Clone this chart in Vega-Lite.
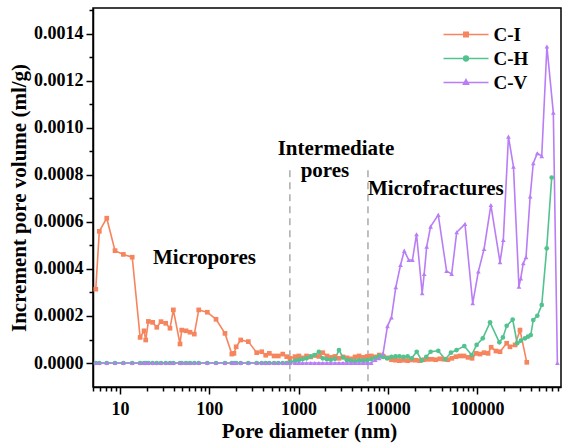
{
  "$schema": "https://vega.github.io/schema/vega-lite/v6.json",
  "width": 468,
  "height": 379,
  "autosize": {"type": "none"},
  "padding": {"left": 93, "top": 8, "right": 1, "bottom": 56},
  "background": "white",
  "config": {
    "font": "Liberation Serif",
    "view": {"stroke": "black", "strokeWidth": 1.5},
    "axis": {
      "grid": false,
      "domainColor": "black",
      "domainWidth": 1.5,
      "tickColor": "black",
      "tickWidth": 1.5,
      "labelFont": "Liberation Serif",
      "labelFontWeight": "bold",
      "labelFontSize": 18,
      "labelColor": "black",
      "labelFlush": false,
      "labelOverlap": false,
      "titleFont": "Liberation Serif",
      "titleFontWeight": "bold",
      "titleFontSize": 21,
      "titleColor": "black"
    }
  },
  "datasets": {
    "pore": [
      {"series": "C-I", "diameter": 5.35, "volume": 0.000314},
      {"series": "C-I", "diameter": 5.86, "volume": 0.00056},
      {"series": "C-I", "diameter": 7.1, "volume": 0.000616},
      {"series": "C-I", "diameter": 8.79, "volume": 0.000478},
      {"series": "C-I", "diameter": 10.9, "volume": 0.000462},
      {"series": "C-I", "diameter": 13.7, "volume": 0.00045},
      {"series": "C-I", "diameter": 16.8, "volume": 0.000109},
      {"series": "C-I", "diameter": 18.6, "volume": 0.000137},
      {"series": "C-I", "diameter": 19.4, "volume": 0.000098},
      {"series": "C-I", "diameter": 20.8, "volume": 0.000177},
      {"series": "C-I", "diameter": 23.2, "volume": 0.000173},
      {"series": "C-I", "diameter": 25.8, "volume": 0.000152},
      {"series": "C-I", "diameter": 28.8, "volume": 0.000176},
      {"series": "C-I", "diameter": 32.5, "volume": 0.000169},
      {"series": "C-I", "diameter": 36.3, "volume": 0.000148},
      {"series": "C-I", "diameter": 39.6, "volume": 0.000226},
      {"series": "C-I", "diameter": 47, "volume": 0.000081},
      {"series": "C-I", "diameter": 49.1, "volume": 0.00014},
      {"series": "C-I", "diameter": 54.9, "volume": 0.000137},
      {"series": "C-I", "diameter": 60.8, "volume": 0.000131},
      {"series": "C-I", "diameter": 68, "volume": 0.000123},
      {"series": "C-I", "diameter": 76.2, "volume": 0.000226},
      {"series": "C-I", "diameter": 95.1, "volume": 0.000216},
      {"series": "C-I", "diameter": 119, "volume": 0.000186},
      {"series": "C-I", "diameter": 150, "volume": 0.000126},
      {"series": "C-I", "diameter": 179, "volume": 0.000038},
      {"series": "C-I", "diameter": 189, "volume": 0.000041},
      {"series": "C-I", "diameter": 200, "volume": 0.000069},
      {"series": "C-I", "diameter": 225, "volume": 0.000098},
      {"series": "C-I", "diameter": 274, "volume": 0.000091},
      {"series": "C-I", "diameter": 340, "volume": 0.000044},
      {"series": "C-I", "diameter": 387, "volume": 0.000048},
      {"series": "C-I", "diameter": 429, "volume": 0.000033},
      {"series": "C-I", "diameter": 471, "volume": 0.000041},
      {"series": "C-I", "diameter": 532, "volume": 0.00003},
      {"series": "C-I", "diameter": 594, "volume": 0.00003},
      {"series": "C-I", "diameter": 666, "volume": 0.000038},
      {"series": "C-I", "diameter": 738, "volume": 0.000027},
      {"series": "C-I", "diameter": 803, "volume": 0.00002},
      {"series": "C-I", "diameter": 914, "volume": 0.000027},
      {"series": "C-I", "diameter": 1010, "volume": 0.00003},
      {"series": "C-I", "diameter": 1110, "volume": 0.000022},
      {"series": "C-I", "diameter": 1230, "volume": 0.00003},
      {"series": "C-I", "diameter": 1370, "volume": 0.000026},
      {"series": "C-I", "diameter": 1520, "volume": 0.000032},
      {"series": "C-I", "diameter": 1690, "volume": 0.000028},
      {"series": "C-I", "diameter": 1870, "volume": 0.000044},
      {"series": "C-I", "diameter": 2080, "volume": 0.00003},
      {"series": "C-I", "diameter": 2300, "volume": 0.000024},
      {"series": "C-I", "diameter": 2560, "volume": 0.000028},
      {"series": "C-I", "diameter": 2840, "volume": 0.00002},
      {"series": "C-I", "diameter": 3150, "volume": 0.000026},
      {"series": "C-I", "diameter": 3490, "volume": 0.000022},
      {"series": "C-I", "diameter": 3880, "volume": 0.000018},
      {"series": "C-I", "diameter": 4300, "volume": 0.000026},
      {"series": "C-I", "diameter": 4770, "volume": 0.00003},
      {"series": "C-I", "diameter": 5300, "volume": 0.000024},
      {"series": "C-I", "diameter": 5880, "volume": 0.000028},
      {"series": "C-I", "diameter": 6520, "volume": 0.00003},
      {"series": "C-I", "diameter": 7240, "volume": 0.000026},
      {"series": "C-I", "diameter": 8030, "volume": 0.000034},
      {"series": "C-I", "diameter": 8910, "volume": 0.000028},
      {"series": "C-I", "diameter": 9890, "volume": 0.000022},
      {"series": "C-I", "diameter": 11000, "volume": 0.000014},
      {"series": "C-I", "diameter": 12200, "volume": 0.000012},
      {"series": "C-I", "diameter": 13500, "volume": 0.00001},
      {"series": "C-I", "diameter": 15000, "volume": 0.000012},
      {"series": "C-I", "diameter": 16700, "volume": 0.00001},
      {"series": "C-I", "diameter": 18500, "volume": 0.000013},
      {"series": "C-I", "diameter": 20500, "volume": 0.000012},
      {"series": "C-I", "diameter": 22800, "volume": 0.00001},
      {"series": "C-I", "diameter": 25300, "volume": 0.000014},
      {"series": "C-I", "diameter": 28000, "volume": 0.000016},
      {"series": "C-I", "diameter": 31100, "volume": 0.000016},
      {"series": "C-I", "diameter": 34500, "volume": 0.000014},
      {"series": "C-I", "diameter": 38300, "volume": 0.000018},
      {"series": "C-I", "diameter": 42500, "volume": 0.000016},
      {"series": "C-I", "diameter": 47200, "volume": 0.000014},
      {"series": "C-I", "diameter": 52300, "volume": 0.00002},
      {"series": "C-I", "diameter": 58000, "volume": 0.000027},
      {"series": "C-I", "diameter": 64400, "volume": 0.00003},
      {"series": "C-I", "diameter": 71500, "volume": 0.00003},
      {"series": "C-I", "diameter": 79300, "volume": 0.000024},
      {"series": "C-I", "diameter": 88000, "volume": 0.00002},
      {"series": "C-I", "diameter": 97700, "volume": 0.000041},
      {"series": "C-I", "diameter": 108000, "volume": 0.000038},
      {"series": "C-I", "diameter": 120000, "volume": 0.000044},
      {"series": "C-I", "diameter": 133000, "volume": 0.000041},
      {"series": "C-I", "diameter": 144000, "volume": 0.000067},
      {"series": "C-I", "diameter": 163000, "volume": 0.000051},
      {"series": "C-I", "diameter": 181000, "volume": 0.000048},
      {"series": "C-I", "diameter": 215000, "volume": 0.000084},
      {"series": "C-I", "diameter": 234000, "volume": 0.000069},
      {"series": "C-I", "diameter": 267000, "volume": 0.000077},
      {"series": "C-I", "diameter": 303000, "volume": 0.00014},
      {"series": "C-I", "diameter": 361000, "volume": 0.000003},

      {"series": "C-H", "diameter": 5.35, "volume": 0},
      {"series": "C-H", "diameter": 5.86, "volume": 0},
      {"series": "C-H", "diameter": 7.1, "volume": 0},
      {"series": "C-H", "diameter": 8.79, "volume": 0},
      {"series": "C-H", "diameter": 10.9, "volume": 0},
      {"series": "C-H", "diameter": 13.7, "volume": 0},
      {"series": "C-H", "diameter": 16.8, "volume": 0},
      {"series": "C-H", "diameter": 18.6, "volume": 0},
      {"series": "C-H", "diameter": 19.4, "volume": 0},
      {"series": "C-H", "diameter": 20.8, "volume": 0},
      {"series": "C-H", "diameter": 23.2, "volume": 0},
      {"series": "C-H", "diameter": 25.8, "volume": 0},
      {"series": "C-H", "diameter": 28.8, "volume": 0},
      {"series": "C-H", "diameter": 32.5, "volume": 0},
      {"series": "C-H", "diameter": 36.3, "volume": 0},
      {"series": "C-H", "diameter": 39.6, "volume": 0},
      {"series": "C-H", "diameter": 47, "volume": 0},
      {"series": "C-H", "diameter": 49.1, "volume": 0},
      {"series": "C-H", "diameter": 54.9, "volume": 0},
      {"series": "C-H", "diameter": 60.8, "volume": 0},
      {"series": "C-H", "diameter": 68, "volume": 0},
      {"series": "C-H", "diameter": 76.2, "volume": 0},
      {"series": "C-H", "diameter": 95.1, "volume": 0},
      {"series": "C-H", "diameter": 119, "volume": 0},
      {"series": "C-H", "diameter": 150, "volume": 0},
      {"series": "C-H", "diameter": 179, "volume": 0},
      {"series": "C-H", "diameter": 189, "volume": 0},
      {"series": "C-H", "diameter": 200, "volume": 0},
      {"series": "C-H", "diameter": 225, "volume": 0},
      {"series": "C-H", "diameter": 274, "volume": 0},
      {"series": "C-H", "diameter": 340, "volume": 0},
      {"series": "C-H", "diameter": 387, "volume": 0},
      {"series": "C-H", "diameter": 429, "volume": 0},
      {"series": "C-H", "diameter": 471, "volume": 0},
      {"series": "C-H", "diameter": 532, "volume": 0},
      {"series": "C-H", "diameter": 594, "volume": 0},
      {"series": "C-H", "diameter": 666, "volume": 0},
      {"series": "C-H", "diameter": 738, "volume": 0},
      {"series": "C-H", "diameter": 803, "volume": 0.000004},
      {"series": "C-H", "diameter": 914, "volume": 0.00001},
      {"series": "C-H", "diameter": 1010, "volume": 0.000013},
      {"series": "C-H", "diameter": 1110, "volume": 0.000016},
      {"series": "C-H", "diameter": 1230, "volume": 0.00002},
      {"series": "C-H", "diameter": 1370, "volume": 0.000028},
      {"series": "C-H", "diameter": 1520, "volume": 0.000034},
      {"series": "C-H", "diameter": 1690, "volume": 0.000048},
      {"series": "C-H", "diameter": 1870, "volume": 0.00002},
      {"series": "C-H", "diameter": 2080, "volume": 0.000016},
      {"series": "C-H", "diameter": 2300, "volume": 0.000014},
      {"series": "C-H", "diameter": 2560, "volume": 0.000018},
      {"series": "C-H", "diameter": 2840, "volume": 0.000055},
      {"series": "C-H", "diameter": 3150, "volume": 0.000024},
      {"series": "C-H", "diameter": 3490, "volume": 0.000012},
      {"series": "C-H", "diameter": 3880, "volume": 0.00001},
      {"series": "C-H", "diameter": 4300, "volume": 0.000008},
      {"series": "C-H", "diameter": 4770, "volume": 0.000012},
      {"series": "C-H", "diameter": 5300, "volume": 0.00001},
      {"series": "C-H", "diameter": 5880, "volume": 0.000012},
      {"series": "C-H", "diameter": 6520, "volume": 0.000016},
      {"series": "C-H", "diameter": 7240, "volume": 0.000022},
      {"series": "C-H", "diameter": 8030, "volume": 0.00003},
      {"series": "C-H", "diameter": 8910, "volume": 0.000026},
      {"series": "C-H", "diameter": 9890, "volume": 0.00002},
      {"series": "C-H", "diameter": 11000, "volume": 0.000026},
      {"series": "C-H", "diameter": 12200, "volume": 0.000028},
      {"series": "C-H", "diameter": 13500, "volume": 0.000028},
      {"series": "C-H", "diameter": 15000, "volume": 0.000026},
      {"series": "C-H", "diameter": 16700, "volume": 0.000028},
      {"series": "C-H", "diameter": 18500, "volume": 0.00002},
      {"series": "C-H", "diameter": 21100, "volume": 0.000048},
      {"series": "C-H", "diameter": 24000, "volume": 0.000011},
      {"series": "C-H", "diameter": 27000, "volume": 0.000026},
      {"series": "C-H", "diameter": 30200, "volume": 0.000048},
      {"series": "C-H", "diameter": 36800, "volume": 0.000052},
      {"series": "C-H", "diameter": 44000, "volume": 0.000016},
      {"series": "C-H", "diameter": 51000, "volume": 0.000044},
      {"series": "C-H", "diameter": 59000, "volume": 0.000055},
      {"series": "C-H", "diameter": 72000, "volume": 0.000072},
      {"series": "C-H", "diameter": 87000, "volume": 0.000034},
      {"series": "C-H", "diameter": 99000, "volume": 0.000077},
      {"series": "C-H", "diameter": 116000, "volume": 0.000105},
      {"series": "C-H", "diameter": 140000, "volume": 0.000173},
      {"series": "C-H", "diameter": 178000, "volume": 0.000088},
      {"series": "C-H", "diameter": 195000, "volume": 0.000109},
      {"series": "C-H", "diameter": 215000, "volume": 0.000158},
      {"series": "C-H", "diameter": 251000, "volume": 0.000185},
      {"series": "C-H", "diameter": 282000, "volume": 0.000084},
      {"series": "C-H", "diameter": 310000, "volume": 0.000095},
      {"series": "C-H", "diameter": 345000, "volume": 0.000105},
      {"series": "C-H", "diameter": 372000, "volume": 0.000112},
      {"series": "C-H", "diameter": 400000, "volume": 0.000119},
      {"series": "C-H", "diameter": 427000, "volume": 0.000183},
      {"series": "C-H", "diameter": 474000, "volume": 0.000201},
      {"series": "C-H", "diameter": 531000, "volume": 0.000247},
      {"series": "C-H", "diameter": 604000, "volume": 0.000488},
      {"series": "C-H", "diameter": 687000, "volume": 0.000789},

      {"series": "C-V", "diameter": 5.35, "volume": 0},
      {"series": "C-V", "diameter": 5.86, "volume": 0},
      {"series": "C-V", "diameter": 7.1, "volume": 0},
      {"series": "C-V", "diameter": 8.79, "volume": 0},
      {"series": "C-V", "diameter": 10.9, "volume": 0},
      {"series": "C-V", "diameter": 13.7, "volume": 0},
      {"series": "C-V", "diameter": 16.8, "volume": 0},
      {"series": "C-V", "diameter": 18.6, "volume": 0},
      {"series": "C-V", "diameter": 19.4, "volume": 0},
      {"series": "C-V", "diameter": 20.8, "volume": 0},
      {"series": "C-V", "diameter": 23.2, "volume": 0},
      {"series": "C-V", "diameter": 25.8, "volume": 0},
      {"series": "C-V", "diameter": 28.8, "volume": 0},
      {"series": "C-V", "diameter": 32.5, "volume": 0},
      {"series": "C-V", "diameter": 36.3, "volume": 0},
      {"series": "C-V", "diameter": 39.6, "volume": 0},
      {"series": "C-V", "diameter": 47, "volume": 0},
      {"series": "C-V", "diameter": 49.1, "volume": 0},
      {"series": "C-V", "diameter": 54.9, "volume": 0},
      {"series": "C-V", "diameter": 60.8, "volume": 0},
      {"series": "C-V", "diameter": 68, "volume": 0},
      {"series": "C-V", "diameter": 76.2, "volume": 0},
      {"series": "C-V", "diameter": 95.1, "volume": 0},
      {"series": "C-V", "diameter": 119, "volume": 0},
      {"series": "C-V", "diameter": 150, "volume": 0},
      {"series": "C-V", "diameter": 179, "volume": 0},
      {"series": "C-V", "diameter": 189, "volume": 0},
      {"series": "C-V", "diameter": 200, "volume": 0},
      {"series": "C-V", "diameter": 225, "volume": 0},
      {"series": "C-V", "diameter": 274, "volume": 0},
      {"series": "C-V", "diameter": 340, "volume": 0},
      {"series": "C-V", "diameter": 387, "volume": 0},
      {"series": "C-V", "diameter": 429, "volume": 0},
      {"series": "C-V", "diameter": 471, "volume": 0},
      {"series": "C-V", "diameter": 532, "volume": 0},
      {"series": "C-V", "diameter": 594, "volume": 0},
      {"series": "C-V", "diameter": 666, "volume": 0},
      {"series": "C-V", "diameter": 738, "volume": 0},
      {"series": "C-V", "diameter": 803, "volume": 0},
      {"series": "C-V", "diameter": 914, "volume": 0},
      {"series": "C-V", "diameter": 1010, "volume": 0},
      {"series": "C-V", "diameter": 1110, "volume": 0},
      {"series": "C-V", "diameter": 1230, "volume": 0},
      {"series": "C-V", "diameter": 1370, "volume": 0},
      {"series": "C-V", "diameter": 1520, "volume": 0},
      {"series": "C-V", "diameter": 1690, "volume": 0},
      {"series": "C-V", "diameter": 1870, "volume": 0},
      {"series": "C-V", "diameter": 2080, "volume": 0},
      {"series": "C-V", "diameter": 2300, "volume": 0},
      {"series": "C-V", "diameter": 2560, "volume": 0},
      {"series": "C-V", "diameter": 2840, "volume": 0},
      {"series": "C-V", "diameter": 3150, "volume": 0},
      {"series": "C-V", "diameter": 3490, "volume": 0},
      {"series": "C-V", "diameter": 3880, "volume": 0},
      {"series": "C-V", "diameter": 4300, "volume": 0},
      {"series": "C-V", "diameter": 4770, "volume": 0},
      {"series": "C-V", "diameter": 5300, "volume": 0},
      {"series": "C-V", "diameter": 5880, "volume": 0},
      {"series": "C-V", "diameter": 6520, "volume": 0},
      {"series": "C-V", "diameter": 7240, "volume": 0.000013},
      {"series": "C-V", "diameter": 8030, "volume": 0.00002},
      {"series": "C-V", "diameter": 8860, "volume": 0.000041},
      {"series": "C-V", "diameter": 9930, "volume": 0.000157},
      {"series": "C-V", "diameter": 11000, "volume": 0.000194},
      {"series": "C-V", "diameter": 12300, "volume": 0.000322},
      {"series": "C-V", "diameter": 13900, "volume": 0.000417},
      {"series": "C-V", "diameter": 15300, "volume": 0.000477},
      {"series": "C-V", "diameter": 17200, "volume": 0.000438},
      {"series": "C-V", "diameter": 18900, "volume": 0.000438},
      {"series": "C-V", "diameter": 21000, "volume": 0.000548},
      {"series": "C-V", "diameter": 24300, "volume": 0.000297},
      {"series": "C-V", "diameter": 25600, "volume": 0.000379},
      {"series": "C-V", "diameter": 27300, "volume": 0.000495},
      {"series": "C-V", "diameter": 30200, "volume": 0.00058},
      {"series": "C-V", "diameter": 36800, "volume": 0.00063},
      {"series": "C-V", "diameter": 45600, "volume": 0.000391},
      {"series": "C-V", "diameter": 52000, "volume": 0.000379},
      {"series": "C-V", "diameter": 59200, "volume": 0.000556},
      {"series": "C-V", "diameter": 73300, "volume": 0.000591},
      {"series": "C-V", "diameter": 89500, "volume": 0.000254},
      {"series": "C-V", "diameter": 103500, "volume": 0.000389},
      {"series": "C-V", "diameter": 120000, "volume": 0.000485},
      {"series": "C-V", "diameter": 143000, "volume": 0.000672},
      {"series": "C-V", "diameter": 181000, "volume": 0.000429},
      {"series": "C-V", "diameter": 197000, "volume": 0.000523},
      {"series": "C-V", "diameter": 225000, "volume": 0.000963},
      {"series": "C-V", "diameter": 256000, "volume": 0.000835},
      {"series": "C-V", "diameter": 295000, "volume": 0.000325},
      {"series": "C-V", "diameter": 309000, "volume": 0.00036},
      {"series": "C-V", "diameter": 330000, "volume": 0.000424},
      {"series": "C-V", "diameter": 354000, "volume": 0.00045},
      {"series": "C-V", "diameter": 394000, "volume": 0.000708},
      {"series": "C-V", "diameter": 427000, "volume": 0.00085},
      {"series": "C-V", "diameter": 474000, "volume": 0.000892},
      {"series": "C-V", "diameter": 531000, "volume": 0.00088},
      {"series": "C-V", "diameter": 607000, "volume": 0.001346},
      {"series": "C-V", "diameter": 716000, "volume": 0.001065},
      {"series": "C-V", "diameter": 795000, "volume": 0}
    ],
    "bounds": [
      {"diameter": 800},
      {"diameter": 6000}
    ],
    "keys": [
      {"series": "C-I"},
      {"series": "C-H"},
      {"series": "C-V"}
    ]
  },
  "resolve": {
    "scale": {"shape": "independent", "fill": "independent", "stroke": "independent"},
    "axis": {"x": "independent", "y": "independent"}
  },
  "layer": [
    {
      "data": {"name": "bounds"},
      "mark": {"type": "rule", "color": "#ABABAB", "strokeDash": [7, 5], "strokeWidth": 1.5},
      "encoding": {
        "x": {
          "field": "diameter",
          "type": "quantitative",
          "scale": {"type": "log", "domain": [4.98, 873000], "nice": false},
          "axis": {
            "orient": "bottom",
            "values": [5, 6, 7, 8, 9, 20, 30, 40, 50, 60, 70, 80, 90, 200, 300, 400, 500, 600, 700, 800, 900, 2000, 3000, 4000, 5000, 6000, 7000, 8000, 9000, 20000, 30000, 40000, 50000, 60000, 70000, 80000, 90000, 200000, 300000, 400000, 500000, 600000, 700000, 800000],
            "labels": false,
            "tickSize": 4,
            "domain": false,
            "title": null,
            "offset": 0
          }
        },
        "y": {
          "datum": 0.00082,
          "type": "quantitative",
          "scale": {"domain": [-0.000102, 0.00151], "nice": false, "zero": false},
          "axis": {
            "orient": "left",
            "values": [0.0001, 0.0003, 0.0005, 0.0007, 0.0009, 0.0011, 0.0013, 0.0015],
            "labels": false,
            "tickSize": 4,
            "domain": false,
            "title": null,
            "offset": 0
          }
        },
        "y2": {"datum": -0.000098}
      }
    },
    {
      "data": {"name": "pore"},
      "mark": {"type": "line", "strokeWidth": 1.6},
      "encoding": {
        "x": {
          "field": "diameter",
          "type": "quantitative",
          "scale": {"type": "log", "domain": [4.98, 873000], "nice": false},
          "axis": {
            "orient": "bottom",
            "offset": 0,
            "values": [10, 100, 1000, 10000, 100000],
            "format": "d",
            "tickSize": 7,
            "labelPadding": 20,
            "labelBaseline": "alphabetic",
            "title": "Pore diameter (nm)",
            "titleX": 216,
            "titleY": 50,
            "titleBaseline": "alphabetic"
          }
        },
        "y": {
          "field": "volume",
          "type": "quantitative",
          "scale": {"domain": [-0.000102, 0.00151], "nice": false, "zero": false},
          "axis": {
            "orient": "left",
            "offset": 0,
            "values": [0, 0.0002, 0.0004, 0.0006, 0.0008, 0.001, 0.0012, 0.0014],
            "format": ".4f",
            "tickSize": 7,
            "labelPadding": 3,
            "title": "Increment pore volume (ml/g)",
            "titleX": -68,
            "titleY": 189.5,
            "titleAngle": -90,
            "titleBaseline": "alphabetic",
            "titleAlign": "center"
          }
        },
        "color": {
          "field": "series",
          "type": "nominal",
          "sort": null,
          "scale": {"domain": ["C-I", "C-H", "C-V"], "range": ["#F6855E", "#52C28F", "#B97DF6"]},
          "legend": null
        },
        "detail": {"field": "series"}
      }
    },
    {
      "data": {"name": "pore"},
      "mark": {"type": "point", "filled": true, "size": 22, "opacity": 1},
      "encoding": {
        "x": {"field": "diameter", "type": "quantitative", "axis": null},
        "y": {"field": "volume", "type": "quantitative", "axis": null},
        "color": {"field": "series", "type": "nominal", "legend": null},
        "shape": {
          "field": "series",
          "type": "nominal",
          "scale": {"domain": ["C-I", "C-H", "C-V"], "range": ["square", "circle", "triangle-up"]},
          "legend": null
        }
      }
    },
    {
      "data": {"name": "keys"},
      "mark": {"type": "point", "filled": true, "opacity": 1, "clip": true, "strokeWidth": 1.5},
      "encoding": {
        "x": {"datum": 1, "type": "quantitative", "axis": null},
        "y": {"datum": 0, "type": "quantitative", "axis": null},
        "fill": {
          "field": "series",
          "type": "nominal",
          "sort": null,
          "scale": {"domain": ["C-I", "C-H", "C-V"], "range": ["#F6855E", "#52C28F", "#B97DF6"]},
          "legend": {
            "orient": "none", "legendX": 363.5, "legendY": 17, "title": null, "padding": 0,
            "symbolSize": 225, "symbolStrokeWidth": 1.5, "symbolOpacity": 1,
            "labelOffset": 18, "labelFontSize": 19, "labelFont": "Liberation Serif",
            "labelFontWeight": "bold", "labelColor": "black", "rowPadding": 4
          }
        },
        "stroke": {
          "field": "series",
          "type": "nominal",
          "sort": null,
          "scale": {"domain": ["C-I", "C-H", "C-V"], "range": ["#F6855E", "#52C28F", "#B97DF6"]},
          "legend": {
            "orient": "none", "legendX": 363.5, "legendY": 17, "title": null, "padding": 0,
            "symbolSize": 225, "symbolStrokeWidth": 1.5, "symbolOpacity": 1,
            "labelOffset": 18, "labelFontSize": 19, "labelFont": "Liberation Serif",
            "labelFontWeight": "bold", "labelColor": "black", "rowPadding": 4
          }
        },
        "shape": {
          "field": "series",
          "type": "nominal",
          "sort": null,
          "scale": {
            "domain": ["C-I", "C-H", "C-V"],
            "range": [
              "M-3,0H3M-0.3,-0.3H0.3V0.3H-0.3Z",
              "M-3,0H3M0.32,0A0.32,0.32,0,1,1,-0.32,0A0.32,0.32,0,1,1,0.32,0Z",
              "M-3,0H3M0,-0.38L0.34,0.24L-0.34,0.24Z"
            ]
          },
          "legend": {
            "orient": "none", "legendX": 363.5, "legendY": 17, "title": null, "padding": 0,
            "symbolSize": 225, "symbolStrokeWidth": 1.5, "symbolOpacity": 1,
            "labelOffset": 18, "labelFontSize": 19, "labelFont": "Liberation Serif",
            "labelFontWeight": "bold", "labelColor": "black", "rowPadding": 4
          }
        }
      }
    },
    {
      "data": {"values": [{}]},
      "mark": {"type": "text", "font": "Liberation Serif", "fontWeight": "bold", "fontSize": 21, "align": "left", "baseline": "alphabetic", "color": "black"},
      "encoding": {
        "x": {"datum": 23.4, "type": "quantitative", "axis": null},
        "y": {"datum": 0.000421, "type": "quantitative", "axis": null},
        "text": {"value": "Micropores"}
      }
    },
    {
      "data": {"values": [{}]},
      "mark": {"type": "text", "font": "Liberation Serif", "fontWeight": "bold", "fontSize": 21, "align": "center", "baseline": "alphabetic", "color": "black"},
      "encoding": {
        "x": {"datum": 2630, "type": "quantitative", "axis": null},
        "y": {"datum": 0.000885, "type": "quantitative", "axis": null},
        "text": {"value": "Intermediate"}
      }
    },
    {
      "data": {"values": [{}]},
      "mark": {"type": "text", "font": "Liberation Serif", "fontWeight": "bold", "fontSize": 21, "align": "center", "baseline": "alphabetic", "color": "black"},
      "encoding": {
        "x": {"datum": 1980, "type": "quantitative", "axis": null},
        "y": {"datum": 0.00079, "type": "quantitative", "axis": null},
        "text": {"value": "pores"}
      }
    },
    {
      "data": {"values": [{}]},
      "mark": {"type": "text", "font": "Liberation Serif", "fontWeight": "bold", "fontSize": 21, "align": "left", "baseline": "alphabetic", "color": "black"},
      "encoding": {
        "x": {"datum": 6010, "type": "quantitative", "axis": null},
        "y": {"datum": 0.000715, "type": "quantitative", "axis": null},
        "text": {"value": "Microfractures"}
      }
    }
  ]
}
